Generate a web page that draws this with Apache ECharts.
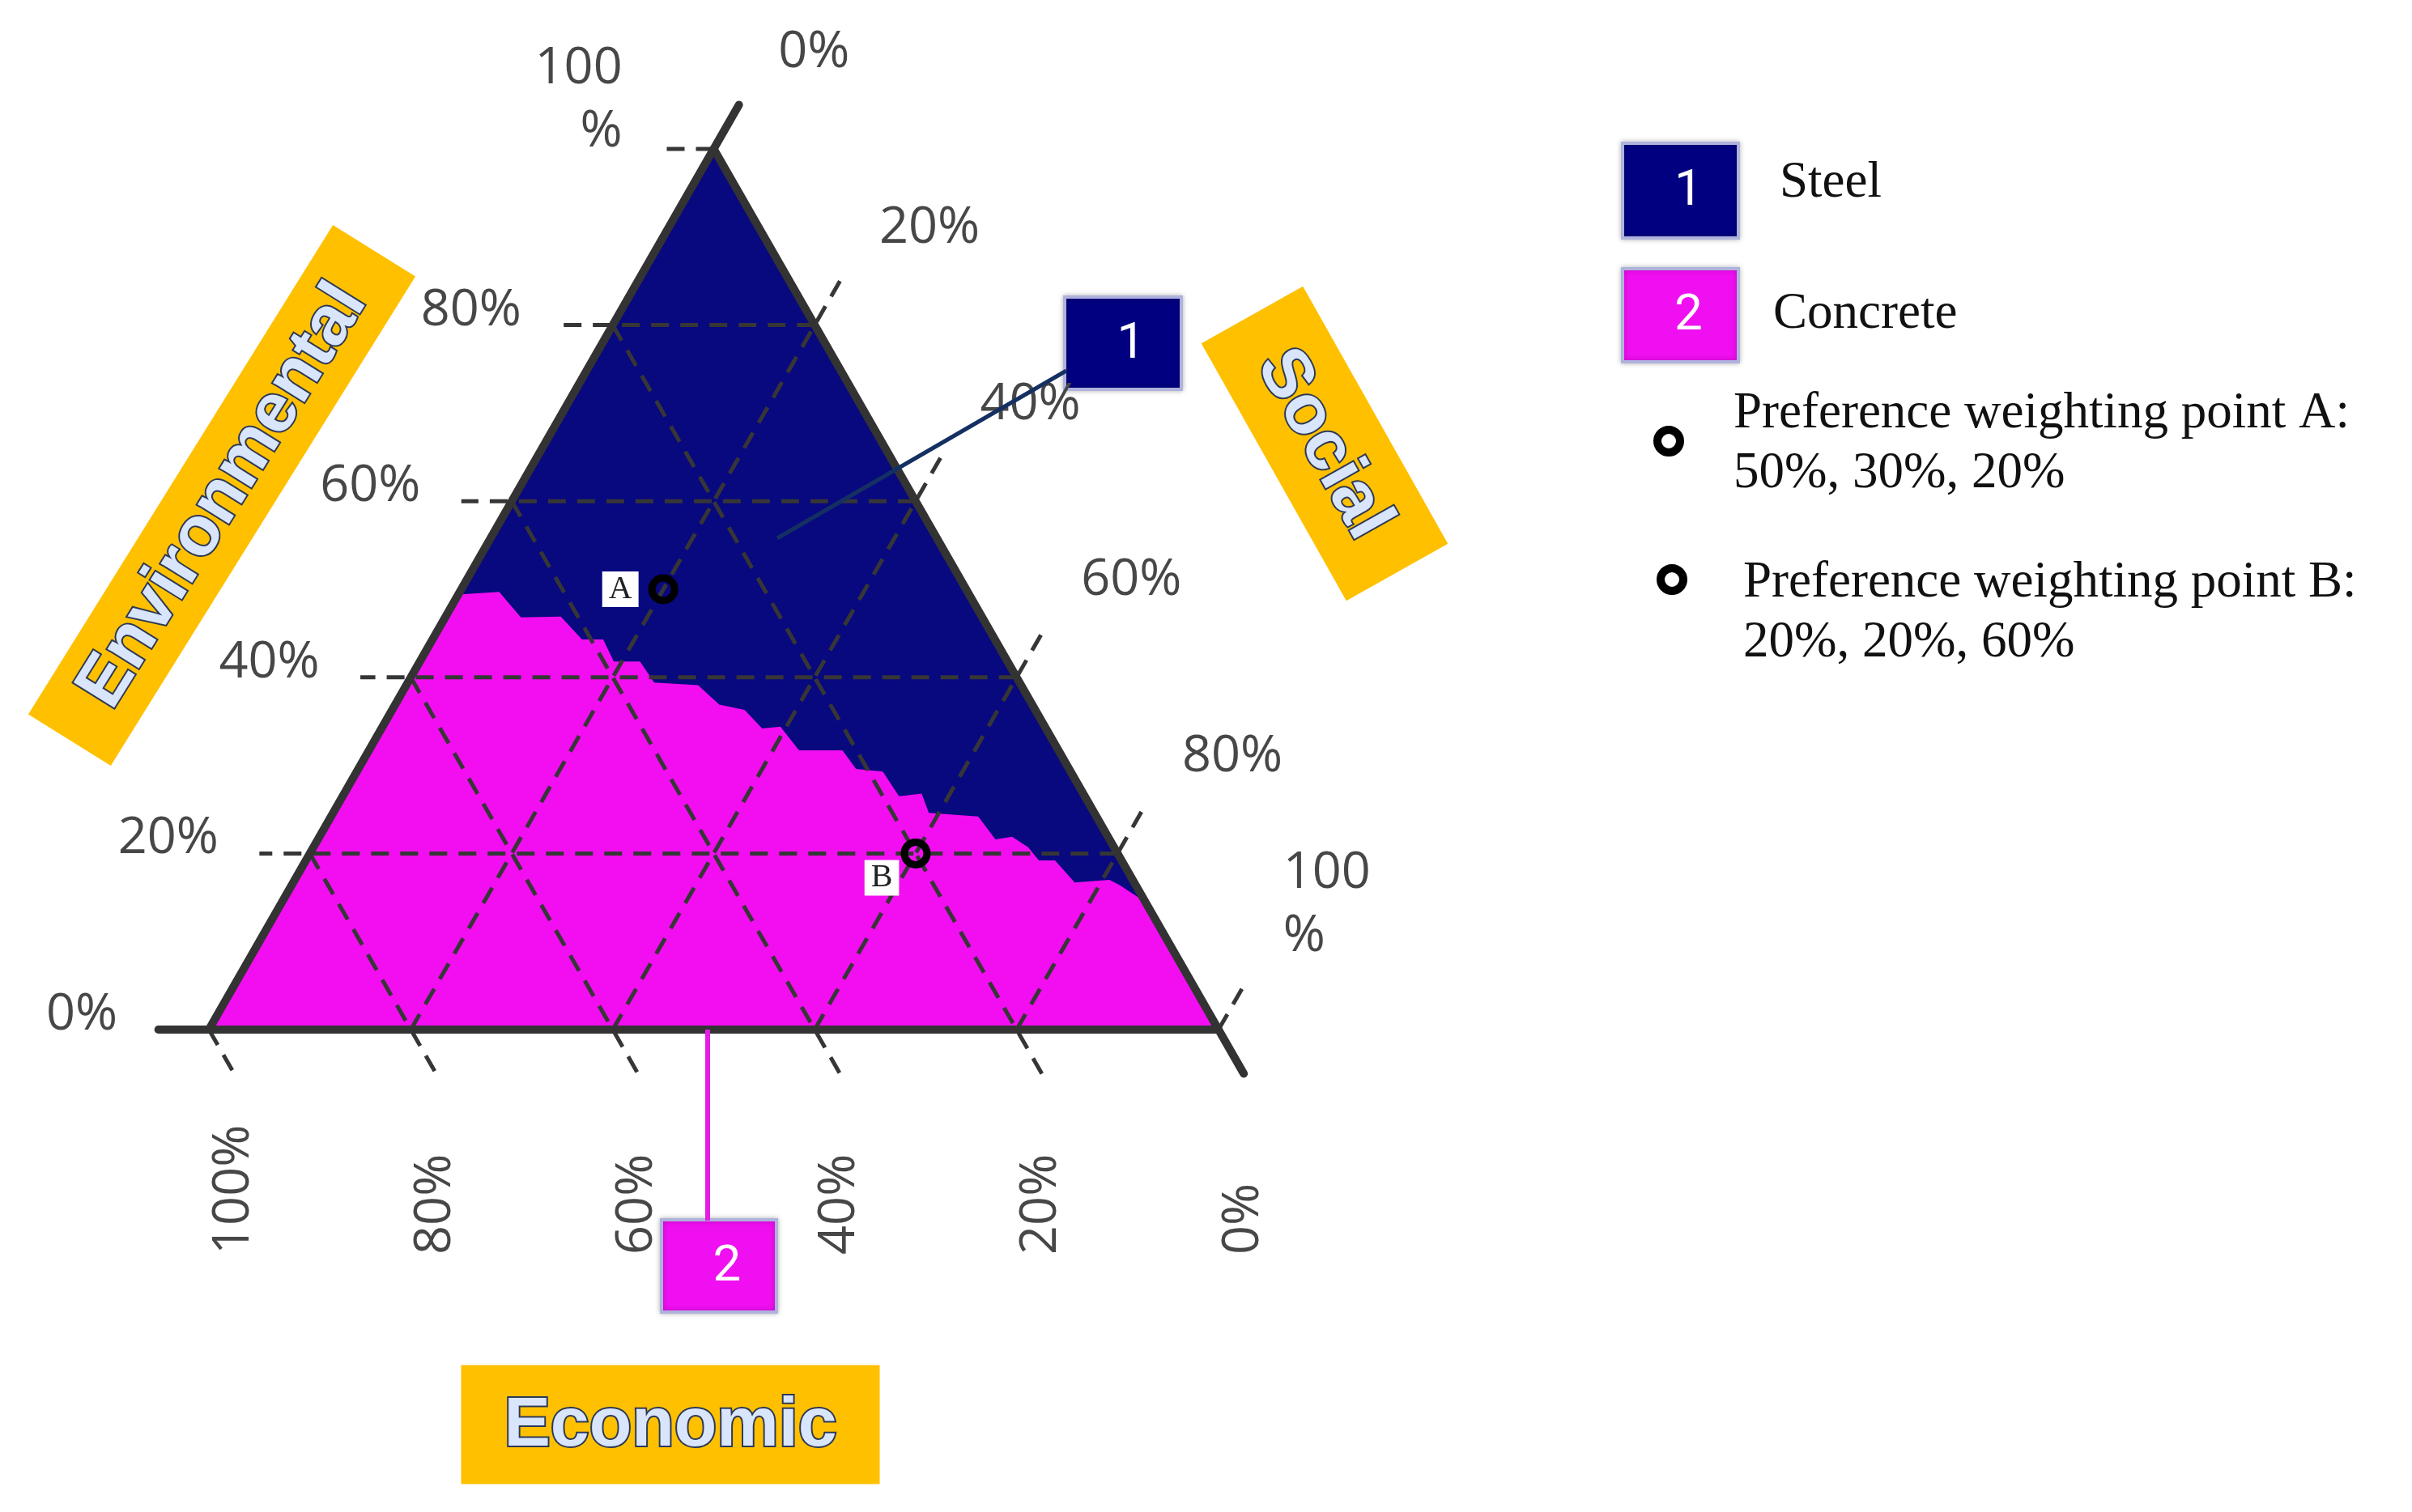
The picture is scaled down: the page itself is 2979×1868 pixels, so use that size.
<!DOCTYPE html>
<html>
<head>
<meta charset="utf-8">
<script src="https://cdn.jsdelivr.net/npm/echarts@6/dist/echarts.min.js"></script>
<style>
  html, body { margin: 0; padding: 0; background: #fff; }
  #chart { width: 2979px; height: 1868px; }
</style>
</head>
<body>
<div id="chart"></div>
<script>
// ternary axes: Environmental (top), Economic (bottom-left), Social (bottom-right)
const ticks = [0, 20, 40, 60, 80, 100];
const envLabels = ['0%', '20%', '40%', '60%', '80%', '100\n%'];
const socialLabels = ['0%', '20%', '40%', '60%', '80%', '100\n%'];
const econLabels = ['0%', '20%', '40%', '60%', '80%', '100%'];

// Steel / Concrete dividing line (Env %, Social %)
const boundaryEnv = [49.4, 49.7, 46.8, 46.9, 44.3, 44.3, 41.8, 41.8, 39.4, 39.1, 36.9, 36.3, 34.2, 34.4,
  31.7, 31.7, 29.6, 29.3, 26.5, 26.8, 24.6, 24.2, 21.6, 21.9, 20.7, 19.2, 19.2, 16.7, 17.0, 16.4, 14.5];
const boundarySocial = [0, 3.9, 7.5, 11.4, 14.8, 16.9, 19.2, 21.8, 24.4, 28.9, 32.1, 34.9, 37.7, 39.4,
  42.6, 46.9, 49.3, 52.1, 55.1, 57.2, 59.0, 64.1, 67.1, 68.6, 70.8, 72.6, 74.2, 77.4, 80.7, 82.0, 85.5];

const regionNames = ['Steel', 'Concrete'];
const regionColors = ['#08087f', '#f20ef0'];

const pointNames = ['A', 'B'];
const pointEnv = [50, 20];
const pointEcon = [30, 20];
const pointSocial = [20, 60];

const EXT = 5; // tick length beyond the triangle, in %

// ternary -> plot coords (x along base, y = Environmental share)
function xy(env, soc) { return [soc + env / 2, env]; }

const dashed = [];
const edges = [];
ticks.forEach(v => {
  const e = [xy(v, 100 - v), xy(v, -EXT)];
  const s = [xy(0, v), xy(100 - v + EXT, v)];
  const c = [xy(100 - v, 0), xy(-EXT, 100 - v + EXT)];
  [e, s, c].forEach(seg => {
    const row = [seg[0][0], seg[0][1], seg[1][0], seg[1][1]];
    (v === 0 ? edges : dashed).push(row);
  });
});

const triangle = [xy(100, 0), xy(0, 0), xy(0, 100)];
const concrete = [xy(0, 0)]
  .concat(boundaryEnv.map((e, i) => xy(e, boundarySocial[i])))
  .concat([xy(0, 100)]);

function polySeries(pts, color) {
  return {
    type: 'custom', coordinateSystem: 'cartesian2d', silent: true, clip: false,
    data: [[50, 50]],
    renderItem: (params, api) => ({
      type: 'polygon',
      shape: { points: pts.map(p => api.coord(p)) },
      style: { fill: color }
    })
  };
}

function segSeries(rows, style, z) {
  return {
    type: 'custom', coordinateSystem: 'cartesian2d', silent: true, clip: false, z: z,
    data: rows,
    renderItem: (params, api) => {
      const a = api.coord([api.value(0), api.value(1)]);
      const b = api.coord([api.value(2), api.value(3)]);
      return { type: 'line', shape: { x1: a[0], y1: a[1], x2: b[0], y2: b[1] }, style: style };
    }
  };
}

const tickFont = { color: '#474747', fontSize: 63, fontFamily: 'Open Sans', lineHeight: 78 };

const envTickData = ticks.map((v, i) => ({
  value: xy(v, -EXT), name: envLabels[i],
  label: v === 100 ? { offset: [0, -60] } : {}
}));
const socialTickData = ticks.map((v, i) => ({
  value: xy(100 - v + EXT, v), name: socialLabels[i],
  label: v === 100 ? { offset: [0, -100] } : {}
}));
const econTickData = ticks.map((v, i) => ({
  value: xy(-EXT, 100 - v + EXT), name: econLabels[i]
}));

function labelSeries(data, label) {
  return {
    type: 'scatter', data: data, symbolSize: 1, silent: true, clip: false, z: 5,
    itemStyle: { color: 'rgba(0,0,0,0)', opacity: 1 },
    label: Object.assign({ show: true, formatter: p => p.name }, tickFont, label)
  };
}

const chart = echarts.init(document.getElementById('chart'));

const titleText = { fill: '#d9e5fa', stroke: '#2c3856', lineWidth: 4, fontSize: 86,
  fontWeight: 'bold', fontFamily: 'Liberation Sans', align: 'center', verticalAlign: 'middle',
  textAlign: 'center', textVerticalAlign: 'middle' };

function titleBox(x, y, w, h, rot, text) {
  return {
    type: 'group', x: x, y: y, rotation: rot, z: 20,
    children: [
      { type: 'rect', shape: { x: -w / 2, y: -h / 2, width: w, height: h }, style: { fill: '#ffc000' } },
      { type: 'text', x: 0, y: 2, style: Object.assign({ text: text }, titleText) }
    ]
  };
}

function numBox(x, y, w, h, fill, text) {
  return {
    type: 'group', x: x, y: y, z: 30,
    children: [
      { type: 'rect', shape: { x: 0, y: 0, width: w, height: h },
        style: { fill: fill, stroke: '#aeb2dc', lineWidth: 4, shadowBlur: 6, shadowColor: 'rgba(0,0,0,0.25)' } },
      { type: 'text', x: w / 2 + 10, y: h / 2 + 2,
        style: { text: text, fill: '#fff', fontSize: 62, fontFamily: 'Roboto',
          align: 'center', verticalAlign: 'middle', textAlign: 'center', textVerticalAlign: 'middle' } }
    ]
  };
}

function legText(x, y, text) {
  return { type: 'text', x: x, y: y, z: 30,
    style: { text: text, fill: '#111', fontSize: 63, fontFamily: 'Liberation Serif',
      align: 'left', verticalAlign: 'middle', textAlign: 'left', textVerticalAlign: 'middle' } };
}

function legRing(x, y) {
  return { type: 'circle', x: x, y: y, z: 30, shape: { r: 14 },
    style: { fill: '#fff', stroke: '#000', lineWidth: 10 } };
}

const option = {
  backgroundColor: '#fff',
  animation: false,
  grid: { left: 258, top: 184, width: 1247, height: 1088 },
  xAxis: { type: 'value', min: 0, max: 100, show: false },
  yAxis: { type: 'value', min: 0, max: 100, show: false },
  series: [
    polySeries(triangle, regionColors[0]),
    polySeries(concrete, regionColors[1]),
    segSeries(dashed, { stroke: '#363636', lineWidth: 5, lineDash: [22, 14] }, 3),
    segSeries(edges, { stroke: '#333', lineWidth: 10, lineCap: 'round' }, 4),
    labelSeries(envTickData, { position: 'left', distance: 50, offset: [0, -18], align: 'right' }),
    labelSeries(socialTickData, { position: 'right', distance: 48, offset: [0, -65], align: 'left' }),
    labelSeries(econTickData, { position: [0, 224], rotate: 90, align: 'left', verticalAlign: 'middle' }),
    {
      type: 'scatter', clip: false, silent: true, z: 10,
      data: pointNames.map((n, i) => ({
        value: xy(pointEnv[i], pointSocial[i]), name: n,
        label: i === 1 ? { distance: 2, offset: [0, 30] } : {}
      })),
      symbolSize: 28,
      itemStyle: { color: 'rgba(0,0,0,0)', borderColor: '#000', borderWidth: 9, opacity: 1 },
      label: { show: true, position: 'left', distance: 12, formatter: '{b}',
        backgroundColor: '#fff', padding: [4, 8, 0, 8], color: '#222',
        fontFamily: 'Liberation Serif', fontSize: 40 }
    }
  ],
  graphic: [
    titleBox(274, 612, 712, 120, 1.014, 'Environmental'),
    titleBox(1636, 548, 365, 144, -1.058, 'Social'),
    titleBox(828, 1760, 517, 147, 0, 'Economic'),
    // callouts
    { type: 'line', z: 25, shape: { x1: 1317, y1: 458, x2: 960, y2: 665 },
      style: { stroke: '#143063', lineWidth: 5 } },
    numBox(1315, 367, 144, 114, '#000080', '1'),
    { type: 'line', z: 25, shape: { x1: 874, y1: 1272, x2: 874, y2: 1508 },
      style: { stroke: '#e21ee2', lineWidth: 6 } },
    numBox(817, 1507, 142, 114, '#f00ff0', '2'),
    // legend
    numBox(2004, 177, 143, 117, '#000080', '1'),
    legText(2198, 226, regionNames[0]),
    numBox(2004, 332, 143, 115, '#f00ff0', '2'),
    legText(2190, 388, regionNames[1]),
    legRing(2061, 545),
    legText(2141, 511, 'Preference weighting point ' + pointNames[0] + ':'),
    legText(2141, 585, pointEnv[0] + '%, ' + pointEcon[0] + '%, ' + pointSocial[0] + '%'),
    legRing(2065, 716),
    legText(2153, 720, 'Preference weighting point ' + pointNames[1] + ':'),
    legText(2153, 794, pointEnv[1] + '%, ' + pointEcon[1] + '%, ' + pointSocial[1] + '%')
  ]
};

chart.setOption(option);
</script>
</body>
</html>
